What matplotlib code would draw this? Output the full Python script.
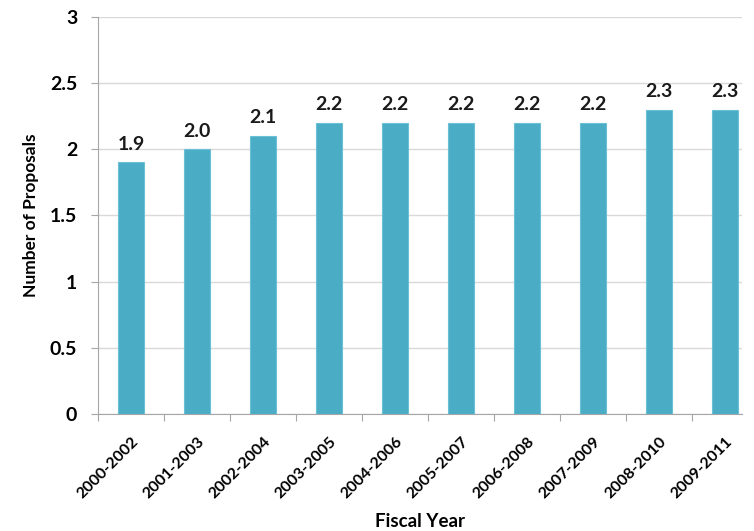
import matplotlib.pyplot as plt

periods = ["2000-2002", "2001-2003", "2002-2004", "2003-2005", "2004-2006",
           "2005-2007", "2006-2008", "2007-2009", "2008-2010", "2009-2011"]
proposals = [1.9, 2.0, 2.1, 2.2, 2.2, 2.2, 2.2, 2.2, 2.3, 2.3]
y_ticks = [0, 0.5, 1, 1.5, 2, 2.5, 3]

plt.rcParams["font.family"] = ["Lato", "DejaVu Sans"]

fig = plt.figure(figsize=(7.54, 5.31), dpi=100)
ax = fig.add_axes([0.130, 0.2203, 0.854, 0.748])

x = range(len(periods))
ax.bar(x, proposals, width=0.39, color="#4BACC6", edgecolor="#6CC0D6",
       linewidth=0.8, zorder=3)

for i, v in zip(x, proposals):
    ax.annotate(f"{v:.1f}", (i, v), xytext=(0, 7), textcoords="offset points",
                ha="center", va="bottom", fontsize=14, fontweight="bold",
                color="#1a1a1a")

ax.set_ylim(0, 3)
ax.set_xlim(-0.5, 9.26)
ax.set_yticks(y_ticks)
ax.set_yticklabels([f"{t:g}" for t in y_ticks], fontsize=14, fontweight="bold")
ax.yaxis.grid(True, color="#d9d9d9", linewidth=1.0, zorder=0)

# category labels sit between boundary ticks
ax.set_xticks([i - 0.5 for i in x], minor=False)
ax.set_xticklabels([])
ax.set_xticks(list(x), minor=True)
ax.set_xticklabels(periods, minor=True, rotation=45, ha="right",
                   rotation_mode="anchor", fontsize=11.5, fontweight="bold")
ax.tick_params(axis="x", which="minor", length=0, pad=15)
ax.tick_params(axis="x", which="major", length=5, color="#a6a6a6")
ax.tick_params(axis="y", length=5, color="#a6a6a6", pad=10)

for side in ("top", "right"):
    ax.spines[side].set_visible(False)
for side in ("left", "bottom"):
    ax.spines[side].set_color("#a6a6a6")

ax.set_ylabel("Number of Proposals", fontsize=12.5, fontweight="bold", labelpad=8)
ax.set_xlabel("Fiscal Year", fontsize=13.5, fontweight="bold", labelpad=8)

fig.savefig("out.png", dpi=100)
